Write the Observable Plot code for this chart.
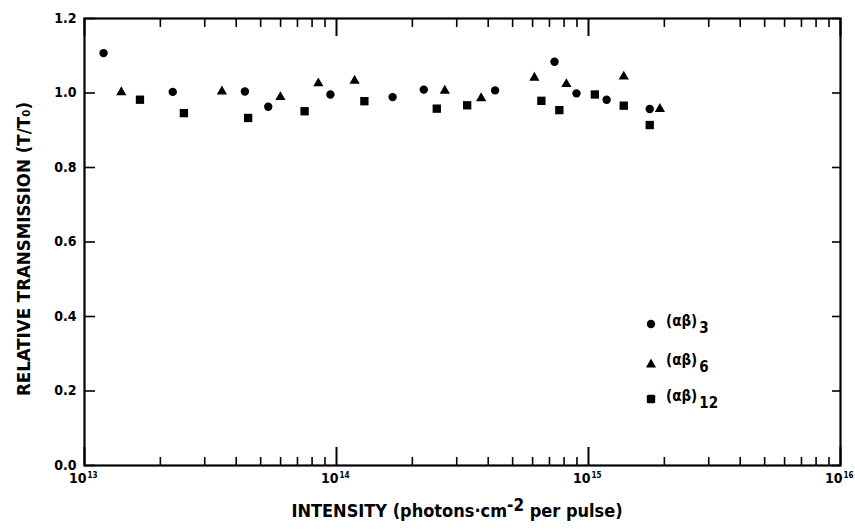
<!DOCTYPE html>
<html><head><meta charset="utf-8">
<script src="https://cdn.jsdelivr.net/npm/d3@7"></script>
<script src="https://cdn.jsdelivr.net/npm/@observablehq/plot@0.6"></script>
<style>
body{margin:0;background:#fff;}
#wrap{position:relative;width:855px;height:531px;font-family:"DejaVu Sans Condensed","DejaVu Sans",sans-serif;font-weight:bold;color:#000;}
.lg{position:absolute;left:645px;font-size:15px;display:flex;align-items:center;height:16px;}
.lg svg{margin-right:9px;}
.lg sub{font-size:15px;vertical-align:-7px;margin-left:2px;}
#xtitle{position:absolute;left:0;width:914px;text-align:center;top:500px;font-size:18px;line-height:22px;white-space:nowrap;}
#xtitle sup{font-size:17px;vertical-align:6px;line-height:0;}
</style></head>
<body><div id="wrap"></div>
<script>
// (αβ)3 — circles
const ab3Intensity = [1.19e13, 2.24e13, 4.33e13, 5.36e13, 9.46e13, 1.67e14, 2.22e14, 4.26e14, 7.33e14, 8.96e14, 1.18e15, 1.75e15];
const ab3Transmission = [1.107, 1.003, 1.004, 0.963, 0.996, 0.989, 1.009, 1.007, 1.084, 0.999, 0.982, 0.957];
// (αβ)6 — triangles
const ab6Intensity = [1.40e13, 3.51e13, 5.99e13, 8.47e13, 1.18e14, 2.69e14, 3.75e14, 6.10e14, 8.17e14, 1.38e15, 1.92e15];
const ab6Transmission = [1.002, 1.004, 0.989, 1.026, 1.033, 1.006, 0.986, 1.041, 1.024, 1.044, 0.957];
// (αβ)12 — squares
const ab12Intensity = [1.66e13, 2.48e13, 4.46e13, 7.47e13, 1.29e14, 2.50e14, 3.30e14, 6.50e14, 7.66e14, 1.06e15, 1.38e15, 1.75e15];
const ab12Transmission = [0.982, 0.946, 0.933, 0.951, 0.978, 0.958, 0.967, 0.979, 0.954, 0.996, 0.966, 0.914];

const majorXTicks = [1e13, 1e14, 1e15, 1e16];
const xTickBase = ["10", "10", "10", "10"];
const xTickExponents = ["13", "14", "15", "16"];
const minorMultipliers = [2, 3, 4, 5, 6, 7, 8, 9];
const yTicks = [0, 0.2, 0.4, 0.6, 0.8, 1.0, 1.2];
const yTickLabels = ["0.0", "0.2", "0.4", "0.6", "0.8", "1.0", "1.2"];
const legendLabels = ["(αβ)", "(αβ)", "(αβ)"];
const legendSubs = ["3", "6", "12"];
const xTitleParts = ["INTENSITY (photons·cm", "-2", " per pulse)"];
const yTitle = "RELATIVE TRANSMISSION (T/T₀)";

const minorXTicks = [];
for (const d of majorXTicks.slice(0, 3)) for (const m of minorMultipliers) minorXTicks.push(d * m);

const toRows = (xs, ys) => xs.map((x, i) => ({x, y: ys[i]}));
const s3 = toRows(ab3Intensity, ab3Transmission);
const s6 = toRows(ab6Intensity, ab6Transmission);
const s12 = toRows(ab12Intensity, ab12Transmission);

const W = 855, H = 531, mL = 84, mR = 15, mT = 18, mB = 66;
const pH = H - mT - mB, pW = W - mL - mR;
const font = `"DejaVu Sans Condensed","DejaVu Sans",sans-serif`;

const chart = Plot.plot({
  width: W, height: H,
  marginLeft: mL, marginRight: mR, marginTop: mT, marginBottom: mB,
  style: {fontFamily: font, fontWeight: "bold", background: "#fff", color: "#000"},
  x: {type: "log", domain: [1e13, 1e16], axis: null},
  y: {domain: [0, 1.2], axis: null},
  marks: [
    // ticks bottom / top
    Plot.tickX(minorXTicks, {x: d => d, insetTop: pH - 8, stroke: "#000", strokeWidth: 1.6}),
    Plot.tickX(majorXTicks, {x: d => d, insetTop: pH - 18, stroke: "#000", strokeWidth: 2}),
    Plot.tickX(minorXTicks, {x: d => d, insetBottom: pH - 9, stroke: "#000", strokeWidth: 1.6}),
    Plot.tickX(majorXTicks, {x: d => d, insetBottom: pH - 18, stroke: "#000", strokeWidth: 2}),
    // ticks left / right
    Plot.tickY(yTicks, {y: d => d, insetRight: pW - 11, stroke: "#000", strokeWidth: 1.6}),
    Plot.tickY(yTicks, {y: d => d, insetLeft: pW - 8, stroke: "#000", strokeWidth: 1.6}),
    Plot.frame({stroke: "#000", strokeWidth: 2.2}),
    // x tick labels: base and exponent
    Plot.text(majorXTicks, {x: d => d, text: (d, i) => xTickBase[i], frameAnchor: "bottom", dy: 17, dx: 2, textAnchor: "end", fontSize: 14, fill: "#000"}),
    Plot.text(majorXTicks, {x: d => d, text: (d, i) => xTickExponents[i], frameAnchor: "bottom", dy: 12, dx: 3, textAnchor: "start", fontSize: 8, fill: "#000"}),
    // y tick labels
    Plot.axisY(yTicks, {anchor: "left", tickSize: 0, tickPadding: 8, fontSize: 14,
      tickFormat: d => yTickLabels[yTicks.indexOf(d)], label: null}),
    // y axis title
    Plot.text([yTitle], {text: d => d, frameAnchor: "left", dx: -60, dy: 7, textAnchor: "middle", rotate: -90, fontSize: 18.5, fill: "#000"}),
    // data
    Plot.dot(s3, {x: "x", y: "y", r: 4.2, symbol: "circle", fill: "#000", stroke: "none"}),
    Plot.dot(s6, {x: "x", y: "y", r: 3.8, symbol: "triangle", fill: "#000", stroke: "none"}),
    Plot.dot(s12, {x: "x", y: "y", r: 4.7, symbol: "square", fill: "#000", stroke: "none"})
  ]
});
const wrap = document.getElementById("wrap");
wrap.appendChild(chart);

const xt = document.createElement("div");
xt.id = "xtitle";
xt.innerHTML = xTitleParts[0] + "<sup>" + xTitleParts[1] + "</sup>" + xTitleParts[2];
wrap.appendChild(xt);

const symSvg = [
  '<svg width="12" height="12"><circle cx="6" cy="6" r="4.2" fill="#000"/></svg>',
  '<svg width="12" height="12"><path d="M6 1.5 L11 10.5 L1 10.5 Z" fill="#000"/></svg>',
  '<svg width="12" height="12"><rect x="1.8" y="1.8" width="8.4" height="8.4" rx="1.5" fill="#000"/></svg>'
];
const legendTops = [316, 355, 391];
legendLabels.forEach((lab, i) => {
  const d = document.createElement("div");
  d.className = "lg";
  d.style.top = legendTops[i] + "px";
  d.innerHTML = symSvg[i] + "<span>" + lab + "<sub>" + legendSubs[i] + "</sub></span>";
  wrap.appendChild(d);
});
</script>
</body></html>
